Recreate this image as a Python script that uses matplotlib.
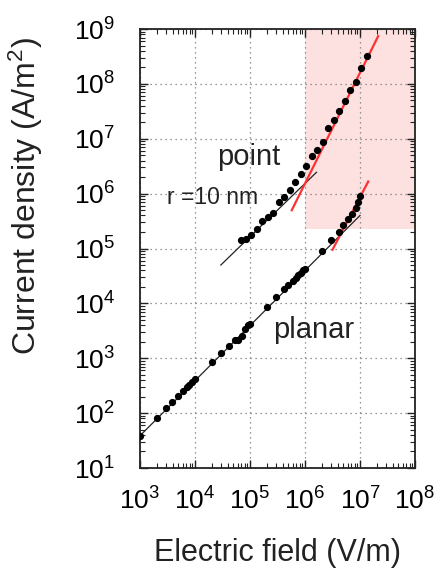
import numpy as np
import matplotlib
matplotlib.use('Agg')
import matplotlib.pyplot as plt
from matplotlib.ticker import LogLocator, FixedLocator, NullFormatter

plt.rcParams['font.family'] = ['Liberation Sans', 'DejaVu Sans']
plt.rcParams['mathtext.default'] = 'regular'

# point emitter (r = 10 nm)
point_field = [6.8e4, 8.3e4, 1.05e5, 1.32e5, 1.66e5, 2.09e5, 2.63e5, 3.31e5,
               4.17e5, 5.25e5, 6.61e5, 8.32e5, 1.05e6, 1.32e6, 1.66e6, 2.09e6,
               2.63e6, 3.31e6, 4.17e6, 5.25e6, 6.61e6, 8.51e6, 1.05e7, 1.32e7]
point_current = [1.41e5, 1.51e5, 1.78e5, 2.24e5, 3.16e5, 3.8e5, 4.47e5, 7.08e5,
                 8.7e5, 1.17e6, 1.62e6, 2.24e6, 3.16e6, 4.79e6, 6.31e6, 8.91e6,
                 1.58e7, 2.24e7, 3.16e7, 4.79e7, 7.59e7, 1.10e8, 1.91e8, 3.16e8]

# planar emitter
planar_field = [1.0e3, 2.0e3, 2.95e3, 3.89e3, 5.0e3, 6.03e3, 7.08e3, 7.76e3,
                8.71e3, 1.0e4, 2.0e4, 2.95e4, 4.07e4, 5.37e4, 6.17e4, 7.08e4,
                8.13e4, 9.33e4, 1.0e5, 2.0e5, 2.95e5, 4.07e5, 5.0e5, 6.03e5,
                6.92e5, 7.59e5, 8.32e5, 9.12e5, 1.0e6, 2.0e6, 2.95e6, 4.07e6,
                5.0e6, 6.03e6, 7.08e6, 8.32e6, 9.12e6, 1.0e7]
planar_current = [39, 83, 123, 162, 209, 251, 302, 331,
                  372, 427, 851, 1.26e3, 1.70e3, 2.14e3, 2.19e3, 2.57e3,
                  3.47e3, 3.98e3, 4.27e3, 8.71e3, 1.32e4, 1.82e4, 2.14e4, 2.51e4,
                  2.88e4, 3.24e4, 3.63e4, 3.98e4, 4.27e4, 9.12e4, 1.41e5, 2.0e5,
                  2.63e5, 3.39e5, 4.17e5, 5.5e5, 6.92e5, 9.12e5]

# fitted lines (end points)
point_fit_x = [2.95e4, 1.62e6]
point_fit_y = [5.0e4, 2.45e6]
point_red_x = [5.75e5, 2.14e7]
point_red_y = [5.0e5, 7.4e8]
planar_fit_x = [9.3e2, 1.0e7]
planar_fit_y = [36, 4.0e5]
planar_red_x = [3.16e6, 1.41e7]
planar_red_y = [9.5e4, 1.66e6]

# highlighted region
region_x = [1e6, 1e8]
region_y = [2.3e5, 1e9]

fig = plt.figure(figsize=(4.38, 5.70), dpi=100)
ax = fig.add_axes([140/438, 1 - 468/570, 275/438, 439/570])
ax.set_xscale('log')
ax.set_yscale('log')
ax.set_xlim(1e3, 1e8)
ax.set_ylim(1e1, 1e9)

ax.fill_between(region_x, region_y[0], region_y[1], color='#fde0e0', lw=0, zorder=0.2)
ax.set_axisbelow(True)
ax.grid(True, which='major', ls=(0, (1, 3)), color='#777777', lw=0.9)

ax.plot(point_fit_x, point_fit_y, color='#222222', lw=0.9, zorder=2)
ax.plot(planar_fit_x, planar_fit_y, color='#222222', lw=0.9, zorder=2)
ax.plot(point_red_x, point_red_y, color='#ff3030', lw=1.6, zorder=2)
ax.plot(planar_red_x, planar_red_y, color='#ff3030', lw=1.6, zorder=2)
ax.plot(point_field, point_current, 'o', color='black', ms=4.2, zorder=3)
ax.plot(planar_field, planar_current, 'o', color='black', ms=4.2, zorder=3)

ax.text(9.5e4, 3.3e6, 'point', fontsize=21, color='#222222', ha='center', va='baseline')
ax.text(3.1e3, 6.5e5, 'r =10 nm', fontsize=16.5, color='#222222', ha='left', va='baseline')
ax.text(1.45e6, 2.35e3, 'planar', fontsize=21, color='#222222', ha='center', va='baseline')

xt = [1e3, 1e4, 1e5, 1e6, 1e7, 1e8]
yt = [1e1, 1e2, 1e3, 1e4, 1e5, 1e6, 1e7, 1e8, 1e9]
ax.xaxis.set_major_locator(FixedLocator(xt))
ax.yaxis.set_major_locator(FixedLocator(yt))
ax.set_xticklabels(['$10^{%d}$' % int(np.log10(v)) for v in xt])
ax.set_yticklabels(['$10^{%d}$' % int(np.log10(v)) for v in yt])
ax.xaxis.set_minor_locator(LogLocator(base=10, subs=np.arange(2, 10), numticks=20))
ax.yaxis.set_minor_locator(LogLocator(base=10, subs=np.arange(2, 10), numticks=20))
ax.xaxis.set_minor_formatter(NullFormatter())
ax.yaxis.set_minor_formatter(NullFormatter())
ax.tick_params(which='both', direction='in', top=True, right=True, color='#222222')
ax.tick_params(which='major', length=6, width=1.0, labelsize=19)
ax.tick_params(which='minor', length=3.5, width=0.8)
ax.tick_params(axis='x', which='major', pad=14)
ax.tick_params(axis='y', which='major', pad=18)
for s in ax.spines.values():
    s.set_linewidth(1.3)
    s.set_color('#222222')

ax.set_xlabel('Electric field (V/m)', fontsize=22, color='#222222')
ax.set_ylabel('Current density (A/m$^2$)', fontsize=23, color='#222222')
ax.xaxis.set_label_coords(0.5, -0.16)
ax.yaxis.set_label_coords(-0.345, 0.62)

fig.savefig('out.png', dpi=100)
